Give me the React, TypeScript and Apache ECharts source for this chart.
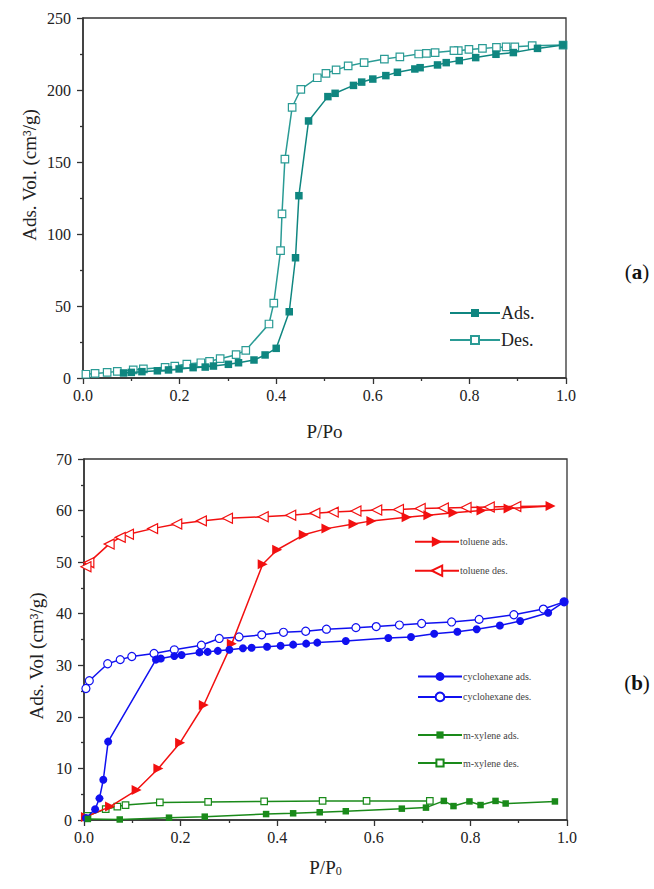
import React, { useEffect, useRef } from "react";
import * as echarts from "echarts";

// ---- (a) N2 isotherm ----
const aAdsP = [0.084, 0.1, 0.122, 0.154, 0.177, 0.199, 0.228, 0.253, 0.27, 0.301, 0.322, 0.354, 0.377, 0.4, 0.427, 0.44, 0.447, 0.467, 0.507, 0.522, 0.56, 0.577, 0.6, 0.627, 0.651, 0.687, 0.698, 0.734, 0.752, 0.779, 0.813, 0.855, 0.891, 0.941, 0.994];
const aAdsV = [3.5, 3.9, 4.4, 5.0, 5.6, 6.3, 7.2, 7.6, 8.3, 9.5, 10.6, 12.5, 16.0, 20.6, 46, 83.5, 126.6, 178.5, 195.4, 197.7, 203.2, 205.5, 207.6, 210, 212.3, 214.6, 215.5, 217.4, 219, 220.4, 222.5, 224.8, 226, 228.9, 231.2];
const aDesP = [0.994, 0.93, 0.894, 0.876, 0.856, 0.827, 0.799, 0.777, 0.768, 0.729, 0.711, 0.695, 0.656, 0.624, 0.582, 0.549, 0.524, 0.503, 0.485, 0.451, 0.433, 0.418, 0.412, 0.409, 0.395, 0.385, 0.337, 0.317, 0.284, 0.262, 0.244, 0.215, 0.19, 0.17, 0.125, 0.104, 0.071, 0.05, 0.025, 0.006];
const aDesV = [231.2, 230.8, 230, 229.9, 229.6, 228.9, 228.2, 227.3, 227.3, 226, 225.5, 225, 223, 221.5, 219, 216.7, 214, 211.6, 208.5, 200.5, 188, 152, 114, 88.4, 52, 37.5, 19.2, 16.2, 13.4, 11.6, 10.6, 9.7, 8.3, 7.4, 6.3, 5.6, 4.6, 3.9, 3.2, 2.6];

// ---- (b) VOC isotherms ----
const tolAdsP = [0.004, 0.054, 0.109, 0.154, 0.199, 0.248, 0.306, 0.37, 0.4, 0.455, 0.502, 0.558, 0.595, 0.668, 0.713, 0.765, 0.823, 0.879, 0.966];
const tolAdsV = [0.6, 2.6, 5.8, 10.0, 15.0, 22.3, 34.2, 49.6, 52.4, 55.3, 56.5, 57.4, 58.0, 58.7, 59.1, 59.6, 60.0, 60.4, 60.9];
const tolDesP = [0.966, 0.894, 0.839, 0.791, 0.744, 0.696, 0.651, 0.606, 0.563, 0.516, 0.478, 0.428, 0.371, 0.297, 0.243, 0.192, 0.142, 0.092, 0.075, 0.052, 0.01, 0.004];
const tolDesV = [60.9, 60.8, 60.7, 60.6, 60.5, 60.4, 60.2, 60.1, 59.9, 59.7, 59.5, 59.1, 58.8, 58.5, 58.0, 57.4, 56.5, 55.4, 54.8, 53.5, 49.9, 49.1];
const cycAdsP = [0.004, 0.023, 0.032, 0.04, 0.05, 0.149, 0.159, 0.187, 0.202, 0.239, 0.256, 0.277, 0.301, 0.329, 0.347, 0.379, 0.407, 0.433, 0.46, 0.483, 0.542, 0.63, 0.677, 0.725, 0.773, 0.813, 0.861, 0.903, 0.961, 0.994];
const cycAdsV = [0.4, 2.1, 4.2, 7.8, 15.2, 31.1, 31.3, 31.8, 32.0, 32.5, 32.6, 32.8, 33.0, 33.3, 33.4, 33.6, 33.8, 34.0, 34.2, 34.4, 34.7, 35.3, 35.5, 36.1, 36.5, 37.0, 37.7, 38.6, 40.2, 42.3];
const cycDesP = [0.994, 0.951, 0.89, 0.818, 0.761, 0.699, 0.653, 0.605, 0.563, 0.502, 0.459, 0.413, 0.368, 0.321, 0.28, 0.243, 0.187, 0.145, 0.099, 0.075, 0.049, 0.011, 0.004];
const cycDesV = [42.3, 40.9, 39.8, 38.9, 38.4, 38.1, 37.8, 37.5, 37.3, 37.0, 36.6, 36.4, 35.9, 35.5, 35.2, 33.9, 33.0, 32.3, 31.7, 31.1, 30.3, 27.0, 25.5];
const xylAdsP = [0.008, 0.074, 0.176, 0.25, 0.377, 0.433, 0.488, 0.542, 0.658, 0.708, 0.745, 0.765, 0.798, 0.821, 0.852, 0.873, 0.975];
const xylAdsV = [0.2, 0.1, 0.45, 0.65, 1.15, 1.3, 1.5, 1.7, 2.2, 2.4, 3.7, 2.7, 3.6, 2.9, 3.7, 3.2, 3.6];
const xylDesP = [0.716, 0.585, 0.494, 0.373, 0.257, 0.157, 0.086, 0.069, 0.045, 0.007];
const xylDesV = [3.7, 3.7, 3.7, 3.6, 3.5, 3.4, 2.9, 2.6, 2.1, 0.8];

const SERIF = '"Liberation Serif", "Times New Roman", serif';
const TEAL = "#0f8680";
const TEAL_L = "#2a9b95";
const RED = "#f21010";
const BLUE = "#1010f0";
const GREEN = "#1a8a1a";

const zip = (p: number[], v: number[]) => p.map((x, i) => [x, v[i]]);

function xAxisCfg(gridIndex: number, name: string, nameGap: number) {
  return {
    type: "value",
    gridIndex,
    min: 0,
    max: 1,
    interval: 0.2,
    name,
    nameLocation: "middle",
    nameGap,
    nameTextStyle: {
      fontFamily: SERIF,
      fontSize: 19,
      color: "#222",
      rich: {
        s: { fontFamily: SERIF, fontSize: 12, color: "#222", verticalAlign: "bottom", lineHeight: 12, padding: [0, 0, 0, 0] },
      },
    },
    axisLine: { show: true, onZero: false, lineStyle: { color: "#333", width: 1.5 } },
    axisTick: { show: true, length: 6, lineStyle: { color: "#333", width: 1.3 } },
    minorTick: { show: true, splitNumber: 2, length: 3, lineStyle: { color: "#333", width: 1.3 } },
    splitLine: { show: false },
    axisLabel: {
      margin: 9,
      fontFamily: SERIF,
      fontSize: 16,
      color: "#222",
      formatter: (v: number) => v.toFixed(1),
    },
  };
}

function yAxisCfg(gridIndex: number, max: number, interval: number) {
  return {
    type: "value",
    gridIndex,
    min: 0,
    max,
    interval,
    axisLine: { show: true, onZero: false, lineStyle: { color: "#333", width: 1.5 } },
    axisTick: { show: true, length: 6, lineStyle: { color: "#333", width: 1.3 } },
    minorTick: { show: true, splitNumber: 2, length: 3, lineStyle: { color: "#333", width: 1.3 } },
    splitLine: { show: false },
    axisLabel: { margin: 12, fontFamily: SERIF, fontSize: 16, color: "#222" },
  };
}

function lineSeries(
  name: string,
  data: number[][],
  xi: number,
  color: string,
  symbol: string,
  size: number,
  open: boolean,
  rotate = 0,
  skipFirst = false
) {
  return {
    type: "line",
    name,
    xAxisIndex: xi,
    yAxisIndex: xi,
    data: data.map((d, i) => (skipFirst && i === 0 ? { value: d, symbol: "none" } : d)),
    symbol,
    symbolSize: size,
    symbolRotate: rotate,
    showAllSymbol: true,
    lineStyle: { color, width: 1.5 },
    itemStyle: open
      ? { color: "#ffffff", borderColor: color, borderWidth: 1.2, opacity: 1 }
      : { color, borderColor: color, borderWidth: 0 },
    emphasis: { disabled: true },
    z: open ? 2 : 3,
  };
}

function legendItem(name: string, left: number, cy: number, width: number, fontSize: number, color: string, iconH: number) {
  return {
    data: [name],
    left,
    top: cy - Math.max(iconH, fontSize) / 2,
    padding: 0,
    itemWidth: width,
    itemHeight: iconH,
    itemGap: 0,
    selectedMode: false,
    textStyle: { fontFamily: SERIF, fontSize, color, padding: [3, 0, 0, -4] },
  };
}

export default function App() {
  const ref = useRef<HTMLDivElement>(null);

  useEffect(() => {
    document.body.style.margin = "0";
    if (!ref.current) return;
    const chart = echarts.init(ref.current, undefined, { renderer: "svg" });

    const option: any = {
      animation: false,
      backgroundColor: "#ffffff",
      grid: [
        { left: 83, top: 18, width: 483, height: 360, show: true, borderColor: "#333", borderWidth: 1.3, backgroundColor: "transparent" },
        { left: 84, top: 459, width: 483, height: 361, show: true, borderColor: "#333", borderWidth: 1.3, backgroundColor: "transparent" },
      ],
      xAxis: [xAxisCfg(0, "P/Po", 44), xAxisCfg(1, "P/P{s|0}", 38)],
      yAxis: [yAxisCfg(0, 250, 50), yAxisCfg(1, 70, 10)],
      legend: [
        legendItem("Ads.", 449, 313, 50, 18, "#222", 10),
        legendItem("Des.", 449, 340, 50, 18, "#222", 10),
        legendItem("toluene ads.", 414, 543, 44, 10, "#444", 13),
        legendItem("toluene des.", 414, 571, 44, 10, "#444", 13),
        legendItem("cyclohexane ads.", 417, 677, 44, 10, "#444", 11),
        legendItem("cyclohexane des.", 417, 697, 44, 10, "#444", 11),
        legendItem("m-xylene ads.", 417, 735, 44, 10, "#444", 9),
        legendItem("m-xylene des.", 417, 763, 44, 10, "#444", 9),
      ],
      series: [
        lineSeries("Ads.", zip(aAdsP, aAdsV), 0, TEAL, "rect", 7.5, false),
        lineSeries("Des.", zip(aDesP, aDesV), 0, TEAL_L, "rect", 7.5, true),
        lineSeries("toluene ads.", zip(tolAdsP, tolAdsV), 1, RED, "triangle", 10, false, -90),
        lineSeries("toluene des.", zip(tolDesP, tolDesV), 1, RED, "triangle", 10, true, 90, true),
        lineSeries("cyclohexane ads.", zip(cycAdsP, cycAdsV), 1, BLUE, "circle", 8, false),
        lineSeries("cyclohexane des.", zip(cycDesP, cycDesV), 1, BLUE, "circle", 8, true),
        lineSeries("m-xylene ads.", zip(xylAdsP, xylAdsV), 1, GREEN, "rect", 6.5, false),
        lineSeries("m-xylene des.", zip(xylDesP, xylDesV), 1, GREEN, "rect", 6.5, true),
      ],
      graphic: [
        {
          type: "text",
          x: 29,
          y: 175,
          rotation: Math.PI / 2,
          style: { text: "Ads. Vol. (cm³/g)", fontFamily: SERIF, fontSize: 19, fill: "#222", align: "center", verticalAlign: "middle", textAlign: "center", textVerticalAlign: "middle" },
        },
        {
          type: "text",
          x: 36,
          y: 656,
          rotation: Math.PI / 2,
          style: { text: "Ads. Vol (cm³/g)", fontFamily: SERIF, fontSize: 19, fill: "#222", align: "center", verticalAlign: "middle", textAlign: "center", textVerticalAlign: "middle" },
        },
        {
          type: "text",
          x: 637,
          y: 272,
          style: {
            text: "({b|a})",
            fontFamily: SERIF,
            fontSize: 21,
            fill: "#111",
            align: "center",
            verticalAlign: "middle",
            textAlign: "center",
            textVerticalAlign: "middle",
            rich: { b: { fontFamily: SERIF, fontSize: 21, fontWeight: "bold", fill: "#111" } },
          },
        },
        {
          type: "text",
          x: 637,
          y: 683,
          style: {
            text: "({b|b})",
            fontFamily: SERIF,
            fontSize: 21,
            fill: "#111",
            align: "center",
            verticalAlign: "middle",
            textAlign: "center",
            textVerticalAlign: "middle",
            rich: { b: { fontFamily: SERIF, fontSize: 21, fontWeight: "bold", fill: "#111" } },
          },
        },
      ],
    };

    chart.setOption(option);
    return () => chart.dispose();
  }, []);

  return <div ref={ref} style={{ width: 654, height: 889 }} />;
}
